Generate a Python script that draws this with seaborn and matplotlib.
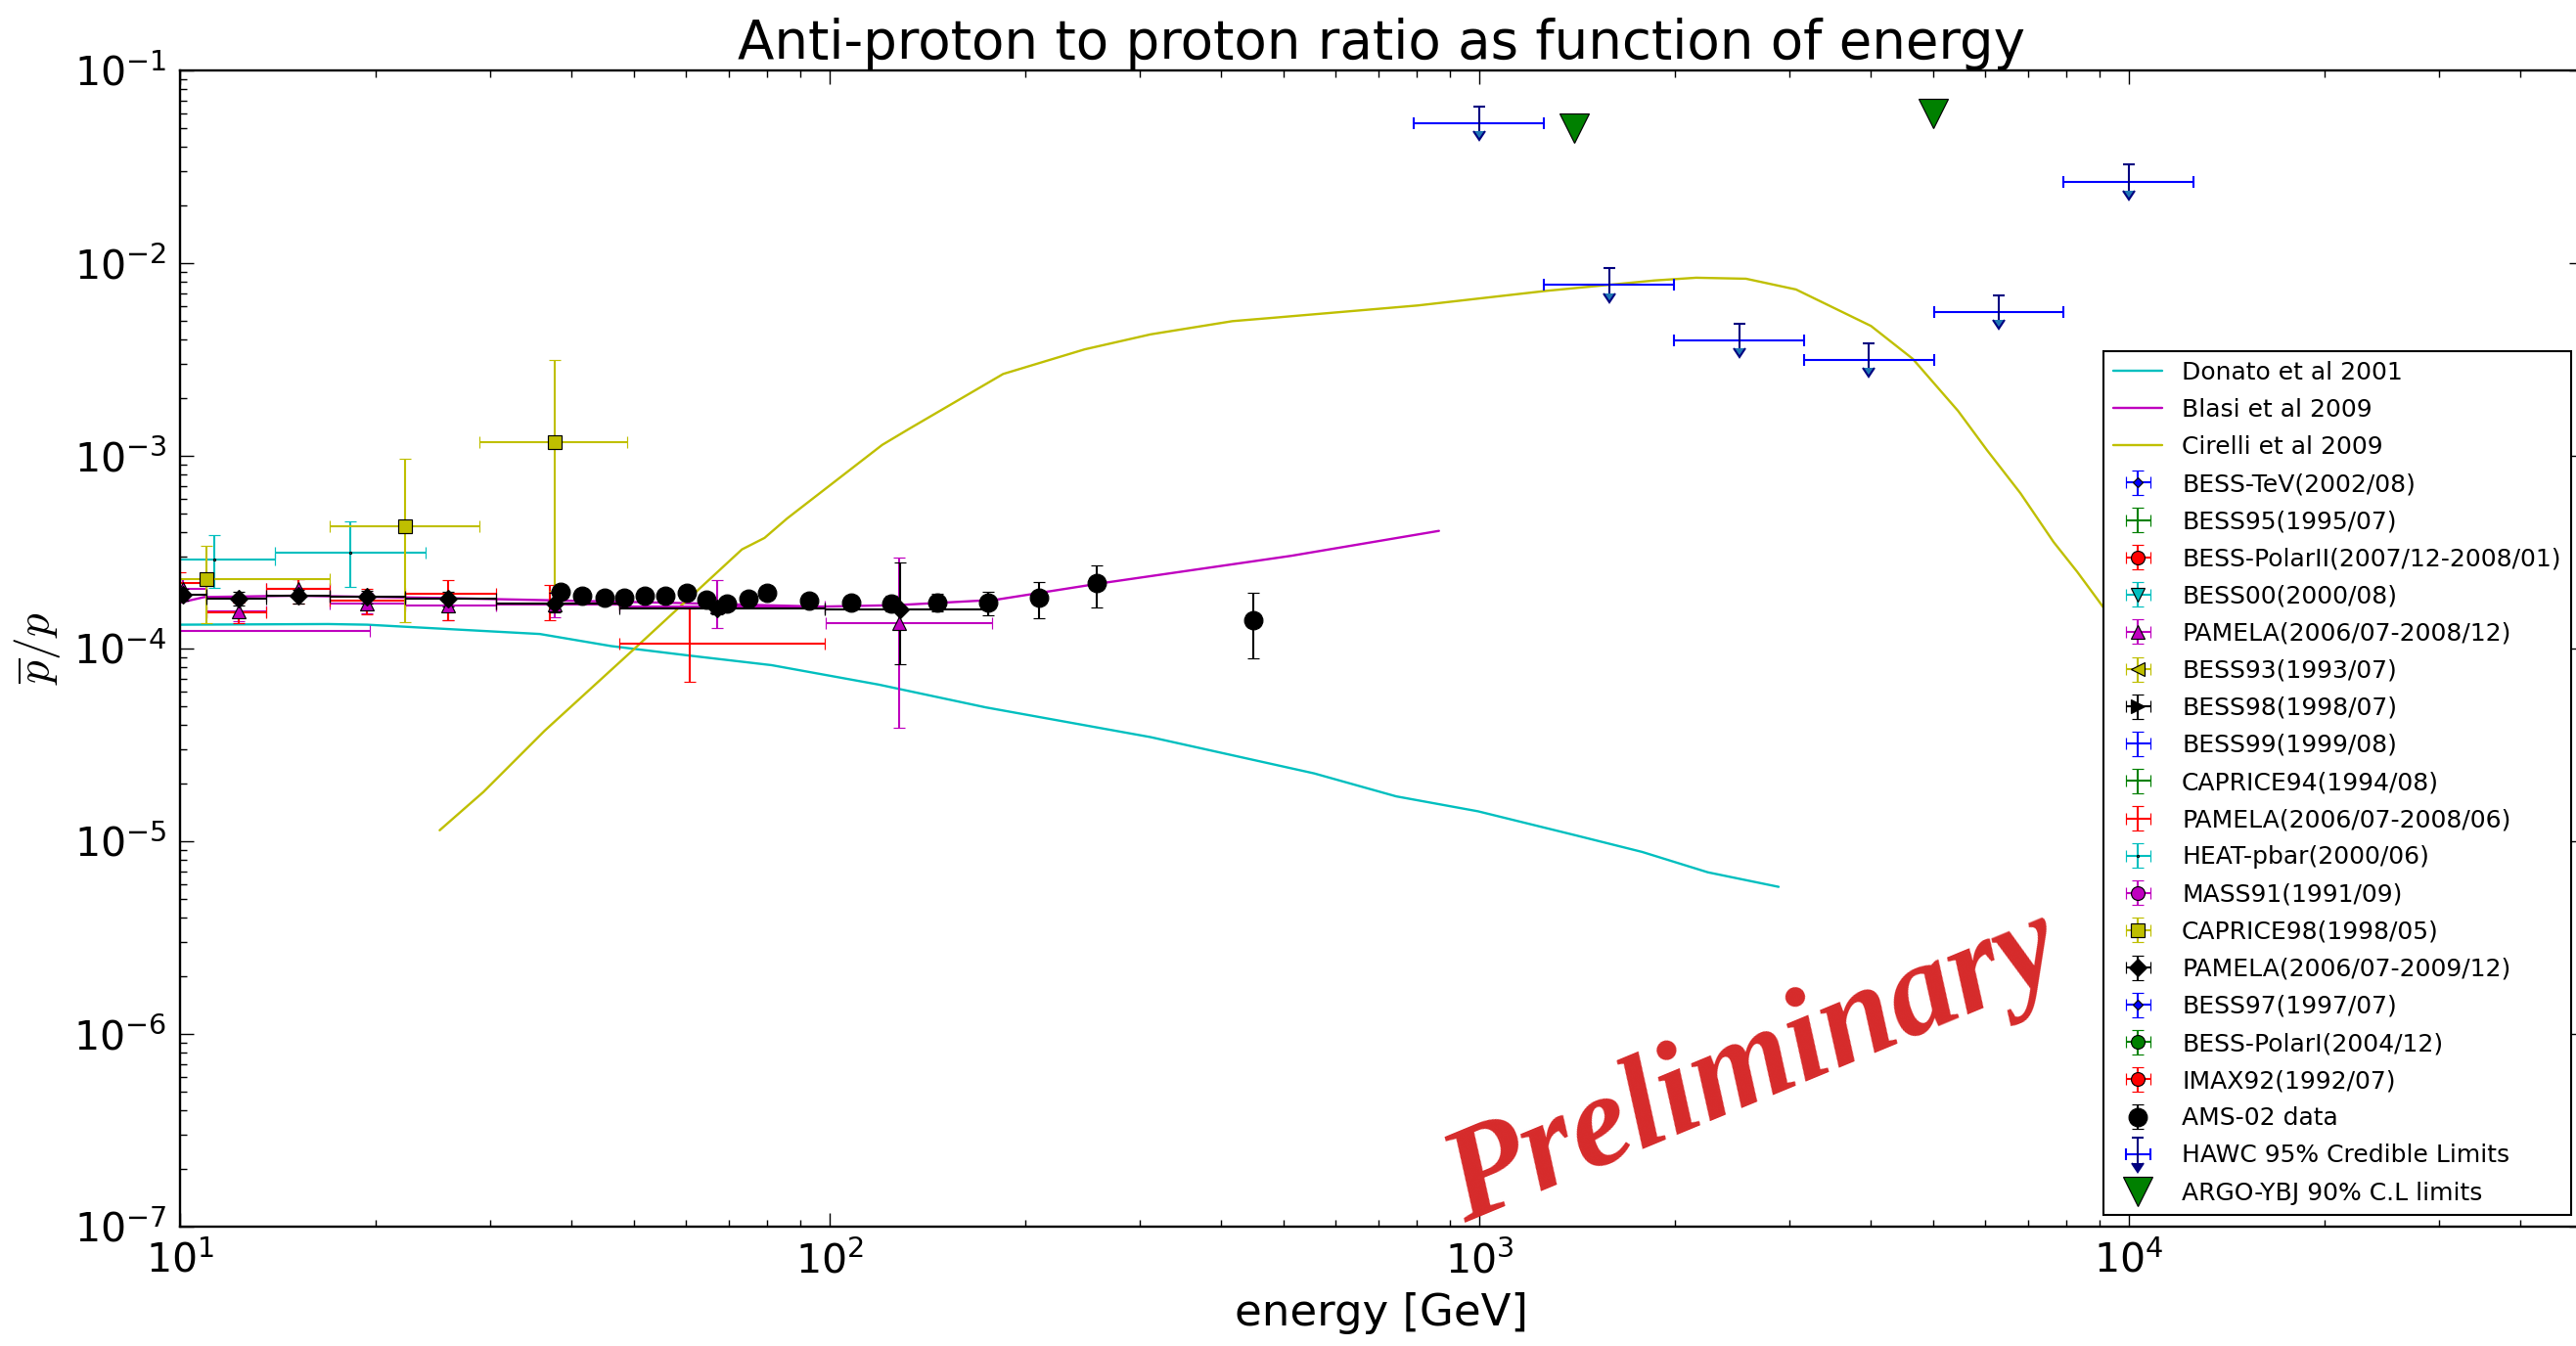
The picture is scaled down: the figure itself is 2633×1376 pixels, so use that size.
import numpy as np
import matplotlib
matplotlib.use("Agg")
import matplotlib.pyplot as plt
import matplotlib.lines as mlines
from matplotlib.lines import Line2D
from matplotlib.legend_handler import HandlerBase
import seaborn as sns

# ---------------------------------------------------------------- model curves
donato_E = [10, 16.9, 19.4, 35.8, 46.1, 60.7, 81.4, 119, 174, 312, 557, 745,
            996, 1413, 1782, 2249, 2890]
donato_R = [1.33e-4, 1.34e-4, 1.33e-4, 1.19e-4, 1.03e-4, 9.2e-5, 8.2e-5, 6.5e-5,
            4.95e-5, 3.47e-5, 2.25e-5, 1.71e-5, 1.43e-5, 1.07e-5, 8.8e-6, 6.9e-6,
            5.8e-6]

blasi_E = [10, 10.9, 15, 25, 34.4, 60, 96.8, 127, 180, 259, 514, 867]
blasi_R = [1.73e-4, 1.85e-4, 1.88e-4, 1.83e-4, 1.79e-4, 1.72e-4, 1.65e-4,
           1.68e-4, 1.79e-4, 2.17e-4, 3.03e-4, 4.08e-4]

cirelli_E = [25.1, 29.3, 36.4, 50.1, 73.3, 79.4, 86.0, 120.5, 133, 185, 247,
             312, 417, 480, 804, 1268, 1862, 2158, 2575, 3074, 4010, 4648, 5460,
             6050, 6810, 7660, 8330, 8950, 9600]
cirelli_R = [1.14e-5, 1.8e-5, 3.74e-5, 1.0e-4, 3.27e-4, 3.75e-4, 4.73e-4,
             1.14e-3, 1.39e-3, 2.66e-3, 3.57e-3, 4.27e-3, 5.0e-3, 5.2e-3, 6.03e-3,
             7.18e-3, 8.13e-3, 8.4e-3, 8.3e-3, 7.3e-3, 4.72e-3, 3.19e-3, 1.71e-3,
             1.07e-3, 6.4e-4, 3.57e-4, 2.5e-4, 1.8e-4, 1.3e-4]

# ---------------------------------------------------------------- measurements
# PAMELA (2006/07-2008/12)
pam0812_E = [10.1, 12.3, 15.2, 19.4, 25.9, 37.8, 67.1, 128]
pam0812_R = [2.05e-4, 1.56e-4, 2.05e-4, 1.72e-4, 1.68e-4, 1.70e-4, 1.65e-4, 1.36e-4]
pam0812_Elo = [9.0, 11.0, 13.56, 17.0, 22.2, 30.6, 47.4, 98.8]
pam0812_Ehi = [11.0, 13.56, 17.0, 22.2, 30.6, 47.4, 98.4, 178]
pam0812_Rlo = [1.8e-4, 1.39e-4, 1.85e-4, 1.52e-4, 1.41e-4, 1.45e-4, 1.28e-4, 3.9e-5]
pam0812_Rhi = [2.3e-4, 1.75e-4, 2.3e-4, 1.95e-4, 1.95e-4, 1.98e-4, 2.27e-4, 2.96e-4]

# PAMELA (2006/07-2008/06)
pam0806_E = [10.0, 12.3, 15.2, 19.4, 25.9, 37.1, 61.0]
pam0806_R = [2.2e-4, 1.54e-4, 2.05e-4, 1.77e-4, 1.92e-4, 1.72e-4, 1.06e-4]
pam0806_Elo = [8.6, 11.0, 13.56, 17.0, 22.2, 30.6, 47.4]
pam0806_Ehi = [11.0, 13.56, 17.0, 22.2, 30.6, 47.4, 98.4]
pam0806_Rlo = [1.85e-4, 1.36e-4, 1.72e-4, 1.5e-4, 1.41e-4, 1.41e-4, 6.75e-5]
pam0806_Rhi = [2.5e-4, 1.73e-4, 2.3e-4, 2.05e-4, 2.26e-4, 2.13e-4, 1.62e-4]

# PAMELA (2006/07-2009/12)
pam0912_E = [10.1, 12.3, 15.2, 19.4, 25.9, 37.8, 67.1, 128.5]
pam0912_R = [1.9e-4, 1.82e-4, 1.87e-4, 1.86e-4, 1.82e-4, 1.72e-4, 1.62e-4, 1.59e-4]
pam0912_Elo = [9.0, 11.0, 13.56, 17.0, 22.2, 30.6, 47.4, 98.4]
pam0912_Ehi = [11.0, 13.56, 17.0, 22.2, 30.6, 47.4, 98.4, 175.6]
pam0912_Rlo = [1.77e-4, 1.68e-4, 1.72e-4, 1.72e-4, 1.66e-4, 1.54e-4, 1.5e-4, 8.26e-5]
pam0912_Rhi = [2.03e-4, 1.97e-4, 2.02e-4, 2.0e-4, 1.98e-4, 1.95e-4, 1.75e-4, 2.8e-4]

# CAPRICE98 (1998/05)
cap98_E = [11.0, 22.2, 37.8]
cap98_R = [2.3e-4, 4.3e-4, 1.175e-3]
cap98_Elo = [7.0, 17.0, 28.9]
cap98_Ehi = [17.0, 28.9, 48.8]
cap98_Rlo = [1.36e-4, 1.37e-4, 2.0e-4]
cap98_Rhi = [3.42e-4, 9.7e-4, 3.13e-3]

# HEAT-pbar (2000/06)
heat_E = [11.3, 18.3]
heat_R = [2.91e-4, 3.14e-4]
heat_Elo = [8.9, 14.0]
heat_Ehi = [14.0, 23.9]
heat_Rlo = [2.07e-4, 2.09e-4]
heat_Rhi = [3.89e-4, 4.58e-4]

# MASS91 (1991/09): one wide bin, 3.7-19.6 GeV
mass91_E = [9.0]
mass91_R = [1.24e-4]
mass91_Elo = [3.7]
mass91_Ehi = [19.6]
mass91_Rlo = [0.73e-4]
mass91_Rhi = [1.92e-4]

# AMS-02
ams_E = [38.5, 41.6, 45.1, 48.2, 52.0, 55.9, 60.3, 64.6, 69.6, 74.9, 80.2, 92.9,
         107.9, 124.3, 146.6, 175.1, 210, 258, 449.5]
ams_R = [1.97e-4, 1.87e-4, 1.84e-4, 1.84e-4, 1.87e-4, 1.87e-4, 1.94e-4, 1.80e-4,
         1.72e-4, 1.82e-4, 1.94e-4, 1.77e-4, 1.73e-4, 1.71e-4, 1.73e-4, 1.73e-4,
         1.84e-4, 2.19e-4, 1.40e-4]
ams_Rlo = [1.88e-4, 1.78e-4, 1.75e-4, 1.75e-4, 1.78e-4, 1.78e-4, 1.84e-4, 1.71e-4,
           1.63e-4, 1.72e-4, 1.83e-4, 1.66e-4, 1.60e-4, 1.56e-4, 1.56e-4, 1.48e-4,
           1.43e-4, 1.64e-4, 8.9e-5]
ams_Rhi = [2.06e-4, 1.96e-4, 1.93e-4, 1.93e-4, 1.96e-4, 1.96e-4, 2.04e-4, 1.89e-4,
           1.81e-4, 1.92e-4, 2.05e-4, 1.89e-4, 1.87e-4, 1.87e-4, 1.92e-4, 1.97e-4,
           2.22e-4, 2.71e-4, 1.94e-4]

# HAWC 95% credible upper limits (bins of 0.2 in log10 E)
hawc_E = [1000, 1585, 2512, 3981, 6310, 10000]
hawc_Elo = [794, 1259, 1995, 3162, 5012, 7943]
hawc_Ehi = [1259, 1995, 3162, 5012, 7943, 12589]
hawc_R = [5.32e-2, 7.73e-3, 3.97e-3, 3.13e-3, 5.57e-3, 2.64e-2]
hawc_top = [6.47e-2, 9.4e-3, 4.87e-3, 3.84e-3, 6.83e-3, 3.24e-2]
hawc_base = [4.83e-2, 7.0e-3, 3.62e-3, 2.86e-3, 5.07e-3, 2.38e-2]

# ARGO-YBJ 90% C.L. upper limits
argo_E = [1400, 5000]
argo_R = [0.05, 0.06]

# experiments whose points all lie below 10 GeV: (colour, marker, size)
low_energy_sets = {
    "BESS-TeV(2002/08)": ("b", "D", 5),
    "BESS95(1995/07)": ("g", "", 0),
    "BESS-PolarII(2007/12-2008/01)": ("r", "o", 10),
    "BESS00(2000/08)": ("c", "v", 10),
    "BESS93(1993/07)": ("y", "<", 10),
    "BESS98(1998/07)": ("k", ">", 10),
    "BESS99(1999/08)": ("b", "", 0),
    "CAPRICE94(1994/08)": ("g", "", 0),
    "BESS97(1997/07)": ("b", "D", 5),
    "BESS-PolarI(2004/12)": ("g", "o", 10),
    "IMAX92(1992/07)": ("r", "o", 10),
}

title_text = "Anti-proton to proton ratio as function of energy"
xlabel_text = "energy [GeV]"
ylabel_text = r"$\overline{p}/p$"
stamp_text = "Preliminary"

# ---------------------------------------------------------------- style
sns.set_style("white")
plt.rcParams.update({
    "font.family": ["DejaVu Sans"],
    "mathtext.fontset": "cm",
    "text.color": "k",
    "axes.edgecolor": "k",
    "axes.labelcolor": "k",
    "axes.linewidth": 1.7,
    "xtick.color": "k", "ytick.color": "k",
    "xtick.direction": "in", "ytick.direction": "in",
    "xtick.top": True, "ytick.right": True,
    "xtick.bottom": True, "ytick.left": True,
    "xtick.major.size": 10, "ytick.major.size": 10,
    "xtick.minor.size": 5, "ytick.minor.size": 5,
    "xtick.major.width": 1.0, "ytick.major.width": 1.0,
    "xtick.minor.width": 1.0, "ytick.minor.width": 1.0,
    "xtick.major.pad": 11, "ytick.major.pad": 10,
    "xtick.labelsize": 29.5, "ytick.labelsize": 29.5,
})

W_PX, H_PX = 2633, 1376
fig = plt.figure(figsize=(W_PX / 100, H_PX / 100), dpi=100)
fig.patch.set_facecolor("white")
ax = fig.add_axes([184 / W_PX, 1 - 1254 / H_PX, (2640 - 184) / W_PX, (1254 - 72) / H_PX])
ax.set_facecolor("white")
ax.set_xscale("log")
ax.set_yscale("log")

LW = 1.7
EB = dict(capsize=4.2, elinewidth=1.5, capthick=1.5, markeredgewidth=0.85,
          markeredgecolor="k", linestyle="none")


def asym(v, lo, hi):
    v = np.asarray(v, float)
    return [v - np.asarray(lo, float), np.asarray(hi, float) - v]


# model curves through seaborn
sns.lineplot(x=donato_E, y=donato_R, ax=ax, color="c", lw=LW, estimator=None,
             sort=False, legend=False)
h_donato = ax.lines[-1]
sns.lineplot(x=blasi_E, y=blasi_R, ax=ax, color="m", lw=LW, estimator=None,
             sort=False, legend=False)
h_blasi = ax.lines[-1]
sns.lineplot(x=cirelli_E, y=cirelli_R, ax=ax, color="y", lw=LW, estimator=None,
             sort=False, legend=False)
h_cirelli = ax.lines[-1]

handles = [h_donato, h_blasi, h_cirelli]
labels = ["Donato et al 2001", "Blasi et al 2009", "Cirelli et al 2009"]

proxies = {}
for name, (col, mk, ms) in low_energy_sets.items():
    proxies[name] = ax.errorbar([np.nan], [np.nan], xerr=1.0, yerr=1e-5,
                                color=col, marker=mk if mk else None,
                                markersize=ms, **EB)

h_pam0812 = ax.errorbar(pam0812_E, pam0812_R,
                        xerr=asym(pam0812_E, pam0812_Elo, pam0812_Ehi),
                        yerr=asym(pam0812_R, pam0812_Rlo, pam0812_Rhi),
                        color="m", marker="^", markersize=10, **EB)
h_pam0806 = ax.errorbar(pam0806_E, pam0806_R,
                        xerr=asym(pam0806_E, pam0806_Elo, pam0806_Ehi),
                        yerr=asym(pam0806_R, pam0806_Rlo, pam0806_Rhi),
                        color="r", marker=None, **EB)
h_heat = ax.errorbar(heat_E, heat_R,
                     xerr=asym(heat_E, heat_Elo, heat_Ehi),
                     yerr=asym(heat_R, heat_Rlo, heat_Rhi),
                     color="c", marker=".", markersize=3, **EB)
h_mass = ax.errorbar(mass91_E, mass91_R,
                     xerr=asym(mass91_E, mass91_Elo, mass91_Ehi),
                     yerr=asym(mass91_R, mass91_Rlo, mass91_Rhi),
                     color="m", marker="o", markersize=10, **EB)
h_cap98 = ax.errorbar(cap98_E, cap98_R,
                      xerr=asym(cap98_E, cap98_Elo, cap98_Ehi),
                      yerr=asym(cap98_R, cap98_Rlo, cap98_Rhi),
                      color="y", marker="s", markersize=10, **EB)
h_pam0912 = ax.errorbar(pam0912_E, pam0912_R,
                        xerr=asym(pam0912_E, pam0912_Elo, pam0912_Ehi),
                        yerr=asym(pam0912_R, pam0912_Rlo, pam0912_Rhi),
                        color="k", marker="D", markersize=9, **EB)
h_ams = ax.errorbar(ams_E, ams_R, yerr=asym(ams_R, ams_Rlo, ams_Rhi),
                    color="k", marker="o", markersize=13.5, **EB)

# HAWC: energy bins in blue, the limit itself as a navy downward arrow
ax.errorbar(hawc_E, hawc_R, xerr=asym(hawc_E, hawc_Elo, hawc_Ehi),
            fmt="none", ecolor="b", elinewidth=1.5, capsize=4.2, capthick=1.5)
ax.errorbar(hawc_E, hawc_top, yerr=np.subtract(hawc_top, hawc_base), uplims=True,
            fmt="none", ecolor="navy", elinewidth=1.5, capsize=4.2, capthick=1.5)

h_argo, = ax.plot(argo_E, argo_R, linestyle="none", marker="v", markersize=22,
                  color="g", markeredgecolor="k", markeredgewidth=0.85)


class UpperLimitKey:
    """Legend key for an upper limit drawn as a bin with a downward arrow."""


class HandlerUpperLimit(HandlerBase):
    def __init__(self, bar_color, arrow_color, **kw):
        super().__init__(**kw)
        self.bar_color = bar_color
        self.arrow_color = arrow_color

    def create_artists(self, legend, orig_handle, xdescent, ydescent, width,
                       height, fontsize, trans):
        xc = -xdescent + 0.5 * width
        yc = 0.5 * (height - ydescent)
        half = 0.5 * fontsize
        top = yc + 0.68 * fontsize
        base = yc - 0.72 * fontsize + 6.3
        arts = [
            Line2D([xc - half, xc + half], [yc, yc], color=self.bar_color, lw=1.5),
            Line2D([xc - half, xc + half], [yc, yc], ls="none", marker="|",
                   ms=8.4, mew=1.5, color=self.bar_color),
            Line2D([xc, xc], [base, top], color=self.arrow_color, lw=1.5),
            Line2D([xc], [top], ls="none", marker="_", ms=8.4, mew=1.5,
                   color=self.arrow_color),
            Line2D([xc], [base], ls="none", marker=mlines.CARETDOWNBASE, ms=8.4,
                   mew=1.5, color=self.arrow_color),
        ]
        for a in arts:
            a.set_transform(trans)
        return arts


hawc_key = UpperLimitKey()

order = [
    ("BESS-TeV(2002/08)", None), ("BESS95(1995/07)", None),
    ("BESS-PolarII(2007/12-2008/01)", None), ("BESS00(2000/08)", None),
    ("PAMELA(2006/07-2008/12)", h_pam0812), ("BESS93(1993/07)", None),
    ("BESS98(1998/07)", None), ("BESS99(1999/08)", None),
    ("CAPRICE94(1994/08)", None), ("PAMELA(2006/07-2008/06)", h_pam0806),
    ("HEAT-pbar(2000/06)", h_heat), ("MASS91(1991/09)", h_mass),
    ("CAPRICE98(1998/05)", h_cap98), ("PAMELA(2006/07-2009/12)", h_pam0912),
    ("BESS97(1997/07)", None), ("BESS-PolarI(2004/12)", None),
    ("IMAX92(1992/07)", None), ("AMS-02 data", h_ams),
    ("HAWC 95% Credible Limits", hawc_key),
    ("ARGO-YBJ 90% C.L limits", h_argo),
]
for name, h in order:
    handles.append(proxies[name] if h is None else h)
    labels.append(name)

ax.set_xlim(10, 5e4)
ax.set_ylim(1e-7, 1e-1)

ax.set_title(title_text, fontsize=39.3, pad=8.5)
ax.set_xlabel(xlabel_text, fontsize=32.4, labelpad=8)
ax.set_ylabel(ylabel_text, fontsize=34, labelpad=8)

leg = ax.legend(handles, labels, loc="lower right", fontsize=18, numpoints=1,
                frameon=True, fancybox=False, labelspacing=0.565, borderpad=0.4,
                handletextpad=0.8, handlelength=2.0, borderaxespad=0.5,
                handler_map={UpperLimitKey: HandlerUpperLimit("b", "navy")})
frame = leg.get_frame()
frame.set_edgecolor("k")
frame.set_linewidth(1.5)
frame.set_facecolor("white")
frame.set_alpha(1.0)

fig.text(1497 / W_PX, 1 - 1250 / H_PX, stamp_text, rotation=22.5,
         rotation_mode="anchor", ha="left", va="baseline", fontsize=97,
         family="Liberation Serif", weight="bold", style="italic",
         color="#d62a2a", zorder=20)

fig.savefig("out.png", dpi=100, facecolor="white")
